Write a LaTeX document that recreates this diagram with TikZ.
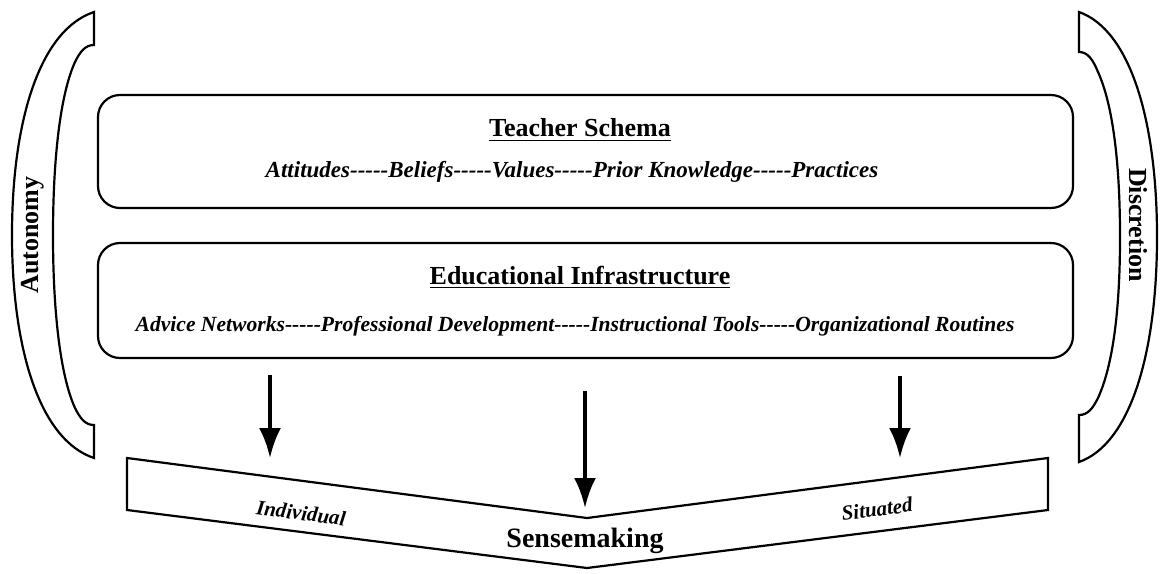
\documentclass[tikz,border=0pt]{standalone}
\usepackage{fontspec}
\setmainfont{Liberation Serif}
\usetikzlibrary{arrows.meta}

% plain hyphens, no dash ligatures
\newcommand\dashrun{-{}-{}-{}-{}-}

\tikzset{
  panel/.style={draw, line width=1.1pt, rounded corners=11pt, minimum width=487.5pt},
  heading/.style={font=\fontsize{13}{15}\selectfont\bfseries},
  itemline/.style={font=\fontsize{#1}{12}\selectfont\bfseries\itshape},
  sidetag/.style={font=\fontsize{13}{15}\selectfont\bfseries},
  bandtag/.style={font=\fontsize{10.5}{12}\selectfont\bfseries\itshape},
  bracket/.style={line width=1.1pt},
  flow/.style={->, line width=2pt}
}

\begin{document}
\begin{tikzpicture}[x=0.5pt, y=-0.5pt, >={Latex[length=15pt,width=11pt]}]
\useasboundingbox (0,0) rectangle (1160,573);

% side brackets
\draw[bracket] (94,12) .. controls (40,30) and (12,120) .. (12,235)
  .. controls (12,350) and (40,440) .. (94,458) -- (94,425)
  .. controls (85,425) and (80,418) .. (75,408)
  .. controls (60,375) and (53,310) .. (53,235)
  .. controls (53,160) and (60,95) .. (75,62)
  .. controls (80,52) and (85,45) .. (94,45) -- cycle;
\node[sidetag, rotate=90] (autonomy) at (33,235) {Autonomy};

\draw[bracket] (1079,12) .. controls (1130,30) and (1157,120) .. (1157,237)
  .. controls (1157,354) and (1130,444) .. (1079,462) -- (1079,415)
  .. controls (1088,415) and (1093,408) .. (1098,398)
  .. controls (1113,365) and (1120,310) .. (1120,237)
  .. controls (1120,164) and (1113,105) .. (1098,72)
  .. controls (1093,60) and (1088,52) .. (1079,52) -- cycle;
\node[sidetag, rotate=-90] (discretion) at (1138,225) {Discretion};

% the two panels
\node[panel, minimum height=56.5pt] (schema) at (585.5,151.5) {};
\node[heading] (schematitle) at (580,130) {\underline{Teacher Schema}};
\node[itemline=11.5] (schemaitems) at (572,172) {Attitudes\dashrun Beliefs\dashrun Values\dashrun Prior Knowledge\dashrun Practices};

\node[panel, minimum height=57.5pt] (infra) at (585.5,300.5) {};
\node[heading] (infratitle) at (580,277) {\underline{Educational Infrastructure}};
\node[itemline=10.8] (infraitems) at (575,326) {Advice Networks\dashrun Professional Development\dashrun Instructional Tools\dashrun Organizational Routines};

% sensemaking band
\draw[bracket] (127,458) -- (587,518) -- (1048,458) -- (1048,510) -- (587,568) -- (127,510) -- cycle;
\node[bandtag, rotate=-7.5] (individual) at (301,513) {Individual};
\node[bandtag, rotate=7.5] (situated) at (877,509) {Situated};
\node[heading, font=\fontsize{14}{16}\selectfont\bfseries] (sense) at (585,541) {Sensemaking};

\coordinate (lefttop) at (270,375);
\coordinate (leftend) at (270,458);
\coordinate (midtop) at (585,391);
\coordinate (midend) at (585,508);
\coordinate (righttop) at (900,376);
\coordinate (rightend) at (900,458);
\draw[flow] (lefttop) -- (leftend);
\draw[flow] (midtop) -- (midend);
\draw[flow] (righttop) -- (rightend);

\end{tikzpicture}
\end{document}
